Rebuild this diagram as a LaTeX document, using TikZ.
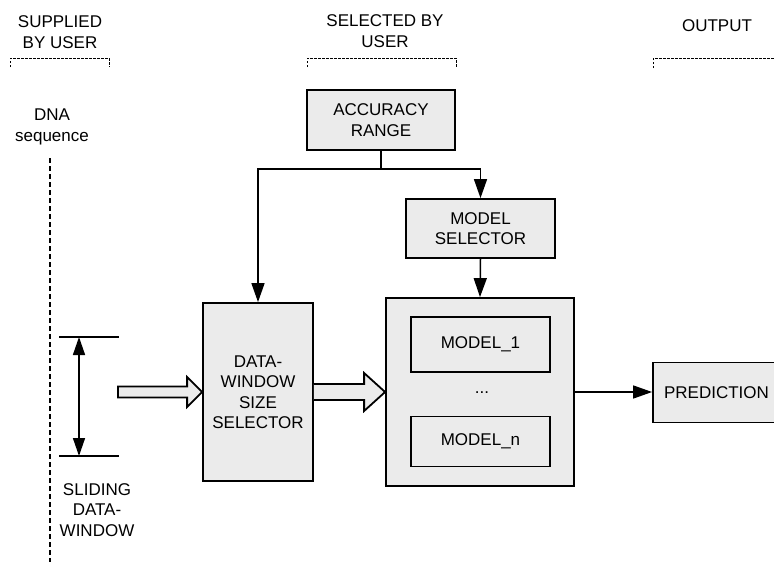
\documentclass[tikz,border=0pt]{standalone}
\usepackage{fontspec}
\setmainfont{Liberation Sans}
\usetikzlibrary{arrows.meta,calc}
\definecolor{boxgray}{HTML}{EBEBEB}
\begin{document}
\begin{tikzpicture}[x=1pt,y=-1pt,
  every node/.style={font=\fontsize{17}{20.5}\selectfont, align=center, inner sep=0pt},
  box/.style={draw=black, line width=1.8pt, fill=boxgray},
  conn/.style={line width=1.5pt, -{Triangle[length=19pt,width=13pt]}},
  bracket/.style={line width=1pt, dash pattern=on 2.5pt off 1.5pt},
  seqline/.style={line width=2.4pt, dash pattern=on 5pt off 3pt},
  blockarrow/.style={line width=1.8pt, fill=boxgray, line join=miter},
  thinline/.style={line width=1.1pt}]
\useasboundingbox (0,0) rectangle (774,562);

% headings
\node (sup) at (60,32) {SUPPLIED\\BY USER};
\node (sel) at (385,31) {SELECTED BY\\USER};
\node (out) at (717,26) {OUTPUT};
\draw[bracket] (10,67) -- (10,58) -- (109,58) -- (109,67);
\draw[bracket] (307,67) -- (307,58) -- (456,58) -- (456,67);
\draw[bracket] (653,68) -- (653,58) -- (790,58);

% DNA sequence
\node (dna) at (52,127) {DNA\\sequence};
\draw[seqline] (50,158) -- (50,566);

% sliding window
\coordinate (swt) at (79,337);
\coordinate (swb) at (79,456);
\draw[thinline] (59,337) -- (119,337);
\draw[thinline] (59,456) -- (119,456);
\draw[line width=1.5pt, {Triangle[length=18pt,width=12pt]}-{Triangle[length=18pt,width=12pt]}] (swt) -- (swb);
\node (slid) at (97,510) {SLIDING\\DATA-\\WINDOW};

% boxes
\node[box, minimum width=148pt, minimum height=60pt] (acc) at (381,120) {ACCURACY\\RANGE};
\node[box, minimum width=149pt, minimum height=59pt] (msel) at (480.5,228.5) {MODEL\\SELECTOR};
\node[box, minimum width=110pt, minimum height=178pt] (dws) at (258,392) {DATA-\\WINDOW\\SIZE\\SELECTOR};
\node[box, minimum width=188pt, minimum height=188pt] (big) at (480,392) {};
\node[box, minimum width=139pt, minimum height=55pt] (m1) at (480.5,344.5) {MODEL\_1};
\node (dots) at (482,393) {...};
\node[box, minimum width=139pt, minimum height=50pt] (mn) at (480.5,441.5) {MODEL\_n};
\node[box, minimum width=127pt, minimum height=60pt] (pred) at (716.5,392.5) {PREDICTION};

% connectors
\coordinate (j) at (381,169);
\draw[line width=1.5pt] (acc.south) -- (j);
\draw[conn] (j) -| (dws.north);
\draw[conn] (j) -| (msel.north);
\draw[conn] (msel.south) -- (big.north);
\draw[conn] (big.east) -- (big.east -| pred.west);

% block arrows
\coordinate (win) at (118,392);
\draw[blockarrow] ($(win)+(0,-5.5)$) -- ($(dws.west)+(-15,-5.5)$) -- ($(dws.west)+(-15,-15)$) -- (dws.west)
  -- ($(dws.west)+(-15,15)$) -- ($(dws.west)+(-15,5.5)$) -- ($(win)+(0,5.5)$) -- cycle;
\draw[blockarrow] ($(dws.east)+(0,-8)$) -- ($(big.west)+(-21,-8)$) -- ($(big.west)+(-21,-19)$) -- (big.west)
  -- ($(big.west)+(-21,19)$) -- ($(big.west)+(-21,8)$) -- ($(dws.east)+(0,8)$);
\end{tikzpicture}
\end{document}
